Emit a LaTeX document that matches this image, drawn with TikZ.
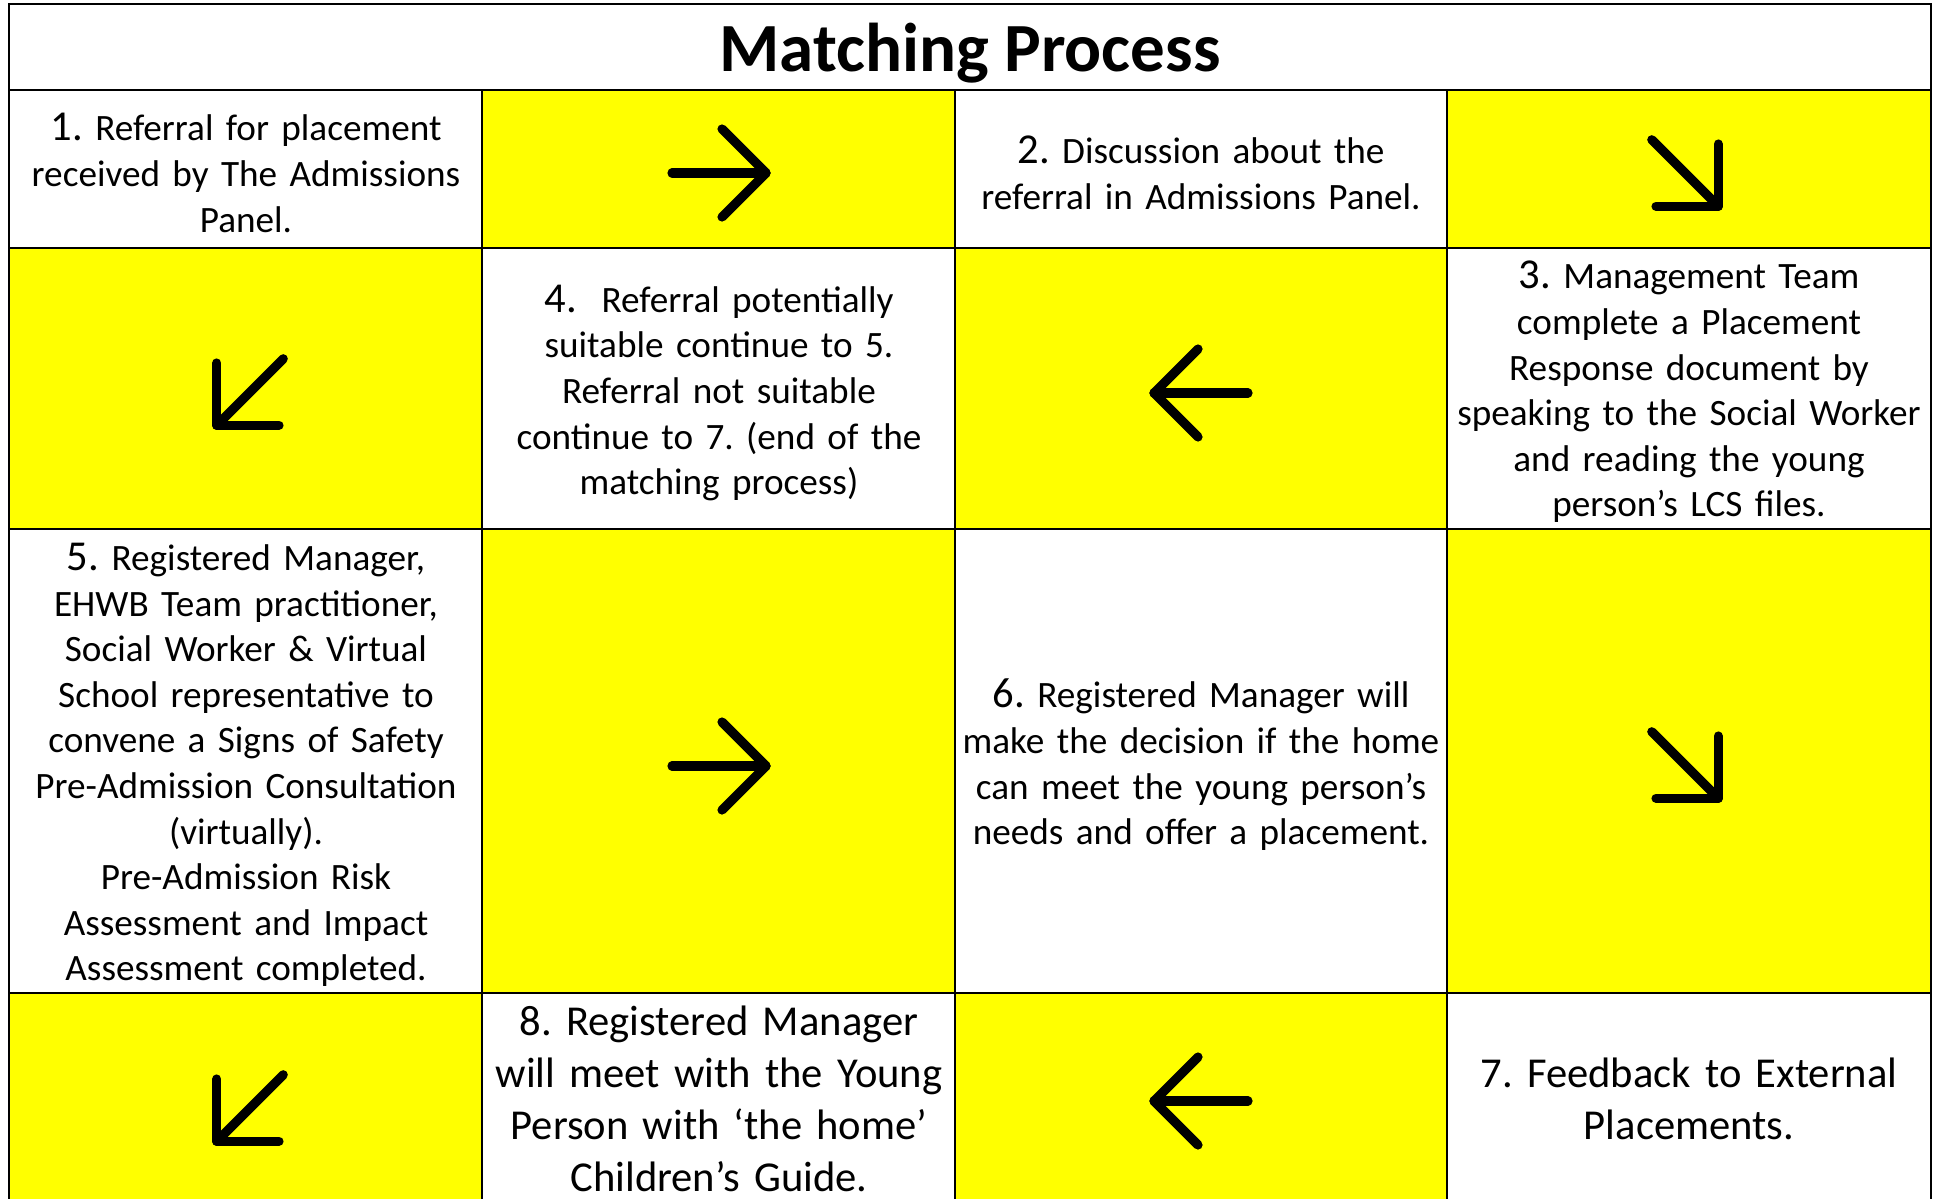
\documentclass[tikz,border=0pt]{standalone}
\usepackage{fontspec}
\setmainfont{Carlito}
\usepackage{tikz}
\definecolor{signyellow}{RGB}{255,255,0}
\frenchspacing
\hyphenpenalty=10000
\newcommand{\bodyfont}{\fontsize{18.6}{22.8}\selectfont}
\newcommand{\bigfont}{\fontsize{21.3}{26}\selectfont}
\newcommand{\stepno}[1]{{\fontsize{21.3}{22.8}\selectfont #1}}
% one thick arrow glyph, centred on a cell
\newcommand{\cellarrow}[2]{%
  \begin{scope}[shift={(#2)}, rotate=#1]
    \draw[pointer] (-47,0) -- (47,0);
    \draw[pointer] (3,44) -- (47,0) -- (3,-44);
  \end{scope}}

\begin{document}
\begin{tikzpicture}[x=0.5pt, y=-0.5pt,
  txt/.style={align=center, text width=250pt, inner sep=0pt, font=\bodyfont},
  bigtxt/.style={txt, font=\bigfont},
  pointer/.style={line width=4.6pt, line cap=round, line join=round},
  rule/.style={line width=1.2pt}
]
\clip (0,0) rectangle (1934,1199);

% yellow arrow cells
\fill[signyellow] (482,90) rectangle (955,248);
\fill[signyellow] (1447,90) rectangle (1931,248);
\fill[signyellow] (9,248) rectangle (482,529);
\fill[signyellow] (955,248) rectangle (1447,529);
\fill[signyellow] (482,529) rectangle (955,993);
\fill[signyellow] (1447,529) rectangle (1931,993);
\fill[signyellow] (9,993) rectangle (482,1215);
\fill[signyellow] (955,993) rectangle (1447,1215);

% table rules
\draw[rule] (9,1215) -- (9,4) -- (1931,4) -- (1931,1215);
\foreach \y in {90,248,529,993}
  \draw[rule] (9,\y) -- (1931,\y);
\foreach \x in {482,955,1447}
  \draw[rule] (\x,90) -- (\x,1215);

% title
\node[font=\bfseries\fontsize{34.5}{40}\selectfont] (title) at (970,53) {Matching Process};

% steps
\node[txt] (referral) at (246,173) {\stepno{1.} Referral for placement\\ received by The Admissions\\ Panel.};
\node[txt] (discuss) at (1201,173) {\stepno{2.} Discussion about the\\ referral in Admissions Panel.};
\node[txt] (mgmt) at (1689,392) {\stepno{3.} Management Team\\ complete a Placement\\ Response document by\\ speaking to the Social Worker\\ and reading the young\\ person’s LCS files.};
\node[txt] (suitable) at (719,393) {\stepno{4.}~~Referral potentially\\ suitable continue to 5.\\ Referral not suitable\\ continue to 7. (end of the\\ matching process)};
\node[txt] (consult) at (246,765) {\stepno{5.} Registered Manager,\\ EHWB Team practitioner,\\ Social Worker \& Virtual\\ School representative to\\ convene a Signs of Safety\\ Pre-Admission Consultation\\ (virtually).\\ Pre-Admission Risk\\ Assessment and Impact\\ Assessment completed.};
\node[txt] (decide) at (1201,765) {\stepno{6.} Registered Manager will\\ make the decision if the home\\ can meet the young person’s\\ needs and offer a placement.};
\node[bigtxt] (feedback) at (1689,1099) {7. Feedback to External\\ Placements.};
\node[bigtxt] (guide) at (719,1099) {8. Registered Manager\\ will meet with the Young\\ Person with ‘the home’\\ Children’s Guide.};

% arrows
\cellarrow{0}{719,173}
\cellarrow{-45}{1685,173}
\cellarrow{-135}{250,392}
\cellarrow{180}{1201,393}
\cellarrow{0}{719,766}
\cellarrow{-45}{1685,765}
\cellarrow{-135}{250,1108}
\cellarrow{180}{1201,1101}
\end{tikzpicture}
\end{document}
